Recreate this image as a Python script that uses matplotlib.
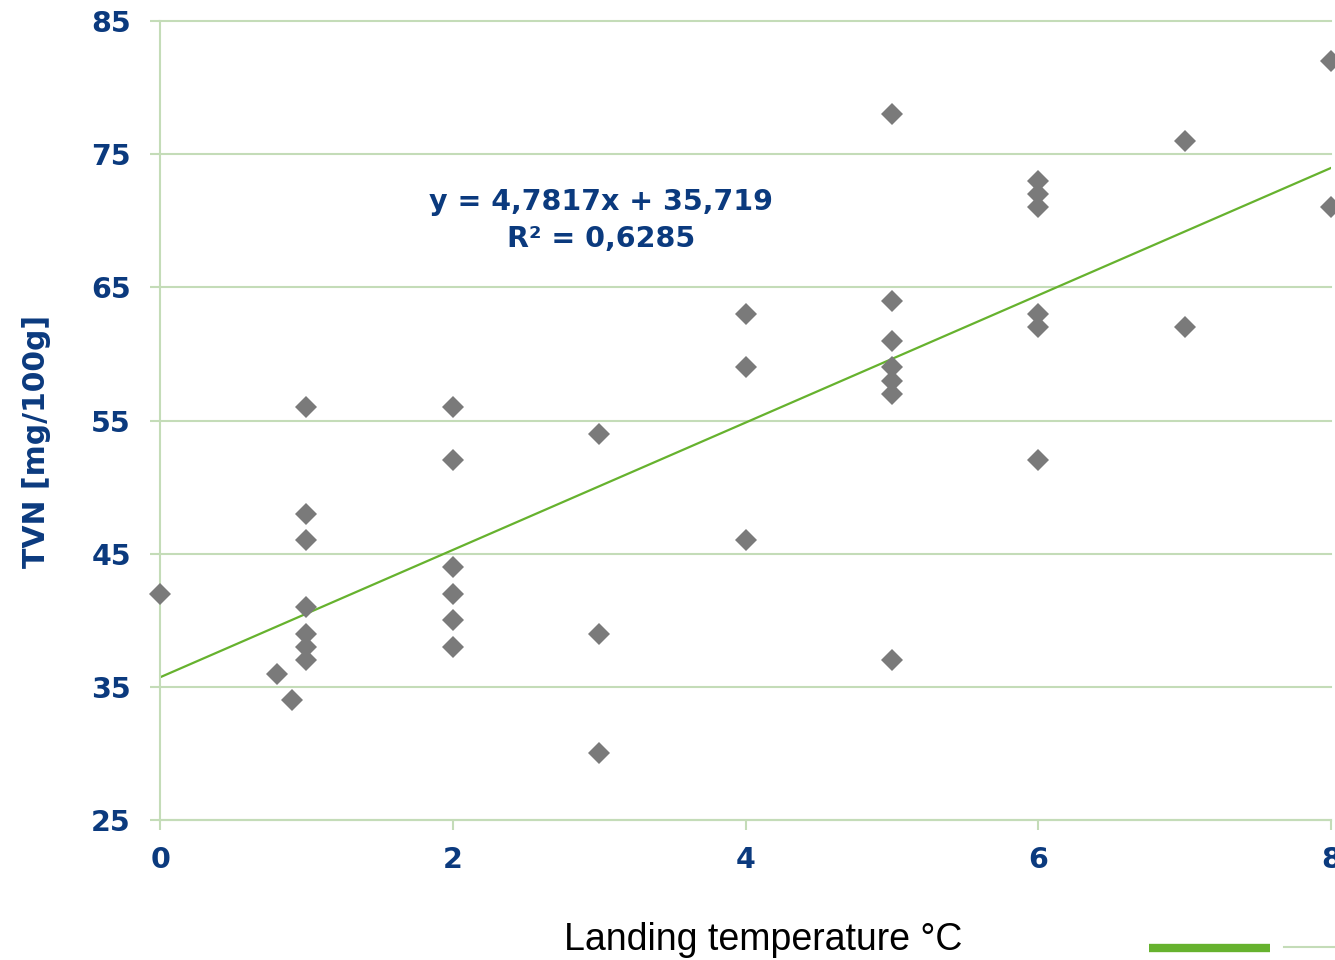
import matplotlib
matplotlib.use("Agg")
import numpy as np
import matplotlib.pyplot as plt
from matplotlib.lines import Line2D

# landing temperature (°C) and TVN (mg/100g) per sample
temperature = [0, 0.8, 0.9,
               1, 1, 1, 1, 1, 1, 1,
               2, 2, 2, 2, 2, 2,
               3, 3, 3,
               4, 4, 4,
               5, 5, 5, 5, 5, 5, 5,
               6, 6, 6, 6, 6, 6,
               7, 7,
               8, 8]
tvn = [42, 36, 34,
       56, 48, 46, 41, 39, 38, 37,
       56, 52, 44, 42, 40, 38,
       54, 39, 30,
       63, 59, 46,
       78, 64, 61, 59, 58, 57, 37,
       73, 72, 71, 63, 62, 52,
       76, 62,
       82, 71]

slope = 4.7817
intercept = 35.719
r_squared = 0.6285

x_ticks = [0, 2, 4, 6, 8]
y_ticks = [25, 35, 45, 55, 65, 75, 85]

navy = "#0b3a7e"
grid_green = "#c4dcb8"
trend_green = "#66b22e"

fig = plt.figure(figsize=(13.35, 9.6), dpi=100)
ax = fig.add_axes([0.1199, 0.1458, 0.8772, 0.8323])

ax.set_xlim(0, 8)
ax.set_ylim(25, 85)

ax.grid(axis="y", color=grid_green, linewidth=1.5)
ax.set_axisbelow(True)
for gl in ax.get_ygridlines():
    gl.set_clip_on(False)

xs = np.array([0, 8])
ax.plot(xs, slope * xs + intercept, color=trend_green, linewidth=1.6, zorder=2)
ax.plot(temperature, tvn, linestyle="none", marker="D", markersize=11.5,
        color="#7a7a7a", markeredgewidth=0, clip_on=False, zorder=3)

for side in ["top", "right"]:
    ax.spines[side].set_visible(False)
for side in ["left", "bottom"]:
    ax.spines[side].set_color(grid_green)
    ax.spines[side].set_linewidth(1.5)

ax.set_xticks(x_ticks)
ax.set_yticks(y_ticks)
ax.tick_params(axis="both", colors=grid_green, width=1.5, length=7,
               labelcolor=navy, labelsize=20.5)
ax.tick_params(axis="x", pad=12)
ax.tick_params(axis="y", pad=14)
for lbl in ax.get_xticklabels() + ax.get_yticklabels():
    lbl.set_fontweight("bold")

ax.text(3.01, 71.4, f"y = {slope:.4f}x + {intercept:.3f}".replace(".", ","),
        ha="center", va="center", fontsize=20.5, fontweight="bold", color=navy)
ax.text(3.01, 68.6, f"R² = {r_squared:.4f}".replace(".", ","),
        ha="center", va="center", fontsize=20.5, fontweight="bold", color=navy)

ax.set_ylabel("TVN [mg/100g]", fontsize=21.5, fontweight="bold", color=navy)
ax.yaxis.set_label_coords(-0.093, 0.474)
fig.text(0.5715, 0.021, "Landing temperature °C", ha="center", va="center",
         fontsize=27, family="Liberation Sans", color="black")

# legend swatches running off the lower right corner
fig.add_artist(Line2D([0.861, 0.951], [0.0125, 0.0125], color=trend_green,
                      linewidth=6, solid_capstyle="butt"))
fig.add_artist(Line2D([0.962, 1.0], [0.0135, 0.0135], color=grid_green,
                      linewidth=1.5))

fig.savefig("out.png", dpi=100)
